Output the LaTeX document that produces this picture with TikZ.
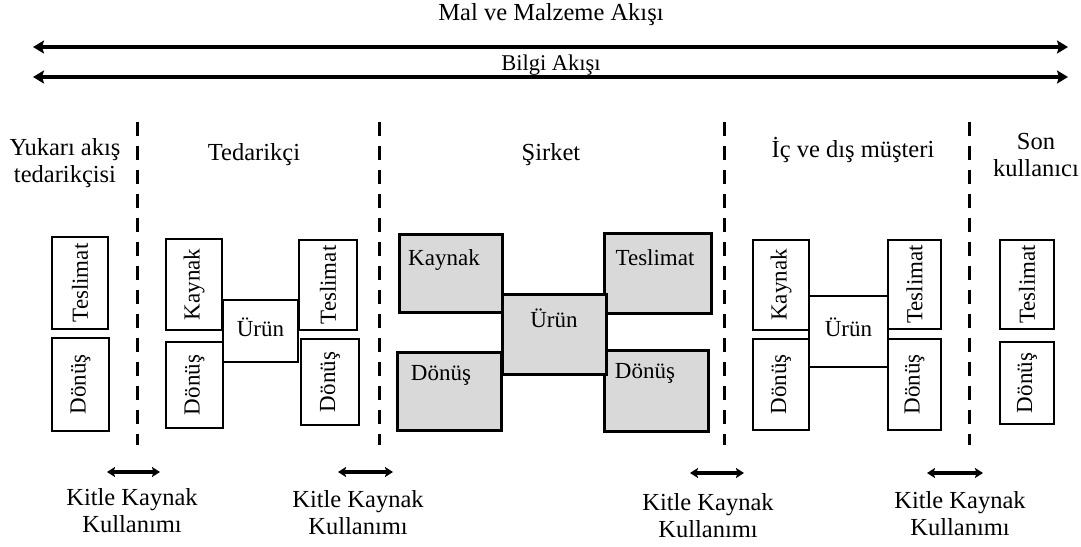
\documentclass[tikz,border=0pt]{standalone}
\usepackage{fontspec}
\setmainfont{Liberation Serif}
\usetikzlibrary{arrows.meta}
\definecolor{boxgray}{RGB}{217,217,217}
\begin{document}
\begin{tikzpicture}[x=1pt,y=-1pt,
  txt/.style={font=\fontsize{24.5}{27}\selectfont, inner sep=0pt, align=center},
  lbl/.style={font=\fontsize{23}{25}\selectfont, inner sep=0pt},
  vlbl/.style={lbl, rotate=90},
  wbox/.style={draw, line width=2.8pt, inner sep=0pt, fill=white},
  gbox/.style={draw, line width=3pt, inner sep=0pt, fill=boxgray},
  flow/.style={line width=3.2pt, {Stealth[length=11pt,width=13pt,inset=2pt]}-{Stealth[length=11pt,width=13pt,inset=2pt]}},
  crowd/.style={line width=3.2pt, {Stealth[length=8pt,width=10pt,inset=1.5pt]}-{Stealth[length=8pt,width=10pt,inset=1.5pt]}},
  divider/.style={line width=3pt, dash pattern=on 14pt off 10pt}
]
\useasboundingbox (0,0) rectangle (1081,546);

% flows across the whole chain
\coordinate (mL) at (33,47);  \coordinate (mR) at (1068,47);
\coordinate (bL) at (33,77);  \coordinate (bR) at (1068,77);
\draw[flow] (mL) -- (mR);
\draw[flow] (bL) -- (bR);
\node[txt] (malt) at (551,15) {Mal ve Malzeme Akışı};
\node[font=\fontsize{22.5}{24}\selectfont, inner sep=0pt] (bilt) at (551,65) {Bilgi Akışı};

% column dividers
\foreach \i/\x in {1/137,2/379,3/724,4/969}{
  \coordinate (d\i t) at (\x,122);
  \coordinate (d\i b) at (\x,445);
  \draw[divider] (d\i t) -- (d\i b);
}

% column titles
\node[txt] (h1) at (65,163) {Yukarı akış\\tedarikçisi};
\node[txt] (h2) at (254,155) {Tedarikçi};
\node[txt] (h3) at (551,155) {Şirket};
\node[txt] (h4) at (853,150) {İç ve dış müşteri};
\node[txt] (h5) at (1036,155) {Son\\kullanıcı};

% upstream supplier
\node[wbox, minimum width=56, minimum height=92] (yT) at (80,283) {};
\node[wbox, minimum width=57, minimum height=93] (yD) at (80.5,384.5) {};
\node[vlbl] (yTl) at (yT) {Teslimat};
\node[vlbl] (yDl) at (yD) {Dönüş};

% supplier
\node[wbox, minimum width=75, minimum height=62] (tU) at (260.5,331) {};
\node[wbox, minimum width=56, minimum height=91] (tK) at (194,284.5) {};
\node[wbox, minimum width=57, minimum height=86] (tD) at (194.5,385) {};
\node[wbox, minimum width=58, minimum height=90] (tT) at (328,285) {};
\node[wbox, minimum width=58, minimum height=86] (tR) at (330,382) {};
\node[lbl] (tUl) at (260.5,327) {Ürün};
\node[vlbl] (tKl) at (tK) {Kaynak};
\node[vlbl] (tDl) at (tD) {Dönüş};
\node[vlbl] (tTl) at (tT) {Teslimat};
\node[vlbl] (tRl) at (tR) {Dönüş};

% company
\node[gbox, minimum width=103, minimum height=78] (sK) at (450.5,273) {};
\node[gbox, minimum width=104, minimum height=78] (sD) at (449,391) {};
\node[gbox, minimum width=107, minimum height=80] (sT) at (657.5,273) {};
\node[gbox, minimum width=104, minimum height=81] (sR) at (656,390.5) {};
\node[gbox, minimum width=104, minimum height=80] (sU) at (554,334) {};
\node[lbl] (sKl) at (444,260) {Kaynak};
\node[lbl] (sTl) at (655,258) {Teslimat};
\node[lbl] (sUl) at (554,318) {Ürün};
\node[lbl] (sDl) at (441,375) {Dönüş};
\node[lbl] (sRl) at (645,373) {Dönüş};

% internal and external customer
\node[wbox, minimum width=79, minimum height=71] (mU) at (848.5,331.5) {};
\node[wbox, minimum width=56, minimum height=90] (mK) at (781,285) {};
\node[wbox, minimum width=56, minimum height=91] (mD) at (781,384.5) {};
\node[wbox, minimum width=53, minimum height=89] (mT) at (914.5,284.5) {};
\node[wbox, minimum width=53, minimum height=91] (mR) at (914.5,384.5) {};
\node[lbl] (mUl) at (848.5,327) {Ürün};
\node[vlbl] (mKl) at (mK) {Kaynak};
\node[vlbl] (mDl) at (mD) {Dönüş};
\node[vlbl] (mTl) at (mT) {Teslimat};
\node[vlbl] (mRl) at (mR) {Dönüş};

% end user
\node[wbox, minimum width=54, minimum height=89] (eT) at (1027,284.5) {};
\node[wbox, minimum width=54, minimum height=82] (eD) at (1027,383) {};
\node[vlbl] (eTl) at (eT) {Teslimat};
\node[vlbl] (eDl) at (eD) {Dönüş};

% crowdsourcing at each interface
\foreach \i/\xa/\xb/\y/\cx/\cy in {1/107/160/472/132/511, 2/338/393/472/358/513, 3/690/744/473/708/516, 4/927/983/473/960/514}{
  \coordinate (c\i a) at (\xa,\y);
  \coordinate (c\i b) at (\xb,\y);
  \draw[crowd] (c\i a) -- (c\i b);
  \node[txt] (k\i) at (\cx,\cy) {Kitle Kaynak\\Kullanımı};
}
\end{tikzpicture}
\end{document}
